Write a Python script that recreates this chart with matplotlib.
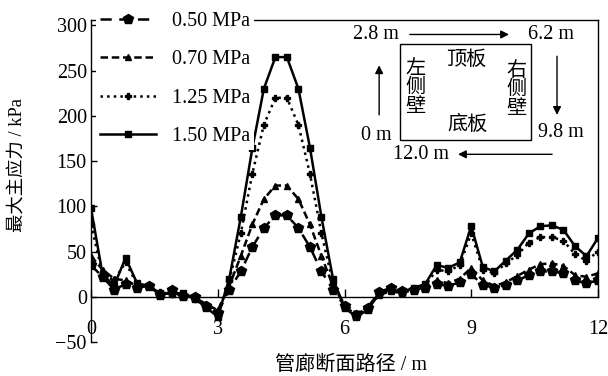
import matplotlib
matplotlib.use("Agg")
import matplotlib.pyplot as plt

plt.rcParams['font.family'] = ['Liberation Serif', 'Noto Sans CJK SC']
plt.rcParams['font.size'] = 14.5
plt.rcParams['axes.unicode_minus'] = True

# path position along the pipe-gallery section (m)
path_x = [0.0, 0.273, 0.545, 0.818, 1.091, 1.364, 1.636, 1.909, 2.182, 2.455,
          2.727, 3.0, 3.273, 3.545, 3.818, 4.091, 4.364, 4.636, 4.909, 5.182,
          5.455, 5.727, 6.0, 6.273, 6.545, 6.818, 7.091, 7.364, 7.636, 7.909,
          8.182, 8.455, 8.727, 9.0, 9.273, 9.545, 9.818, 10.091, 10.364, 10.636,
          10.909, 11.182, 11.455, 11.727, 12.0]

# max principal stress (kPa) for each load
s_050 = [35, 22, 8, 14, 10, 12, 2, 7, 1, 0,
         -10, -18, 8, 28, 55, 76, 90, 90, 76, 55,
         28, 8, -10, -20, -12, 5, 10, 6, 8, 10,
         14, 12, 16, 25, 13, 10, 13, 18, 24, 28,
         28, 26, 18, 15, 18]
s_070 = [45, 30, 20, 18, 12, 13, 3, 5, 3, -1,
         -8, -15, 12, 45, 80, 108, 123, 123, 108, 80,
         45, 12, -8, -18, -12, 2, 6, 4, 8, 10,
         18, 15, 20, 32, 18, 12, 16, 23, 30, 36,
         37, 34, 24, 22, 26]
s_125 = [80, 25, 18, 38, 14, 12, 5, 3, 2, -2,
         -10, -18, 18, 70, 136, 190, 220, 220, 190, 136,
         70, 15, -10, -20, -14, 3, 8, 5, 9, 12,
         30, 28, 35, 70, 30, 26, 37, 46, 60, 66,
         66, 62, 47, 40, 50]
s_150 = [98, 25, 12, 43, 15, 12, 4, 3, 4, -2,
         -12, -22, 20, 88, 164, 230, 265, 265, 230, 165,
         88, 20, -12, -22, -15, 4, 8, 5, 10, 14,
         35, 32, 38, 78, 33, 28, 40, 52, 70, 78,
         79, 74, 56, 45, 65]

labels = ['0.50 MPa', '0.70 MPa', '1.25 MPa', '1.50 MPa']

fig = plt.figure(figsize=(6.08, 3.76), dpi=100)
ax = fig.add_axes([91 / 608, 1 - 342 / 376, 507 / 608, 322 / 376])

ax.plot(path_x, s_050, color='k', lw=1.8, dashes=(4.5, 3), marker='p', ms=7, label=labels[0])
ax.plot(path_x, s_070, color='k', lw=1.8, dashes=(3, 1.5), marker='^', ms=5, label=labels[1])
ax.plot(path_x, s_125, color='k', lw=1.8, ls=':', marker='P', ms=5, label=labels[2])
ax.plot(path_x, s_150, color='k', lw=1.8, ls='-', marker='s', ms=4.5, label=labels[3])

ax.set_xlim(0, 12)
ax.set_ylim(-50, 306)
ax.set_xticks([0, 3, 6, 9, 12])
ax.set_yticks(range(-50, 301, 50))

ax.spines['bottom'].set_position(('data', 0))
ax.spines['right'].set_bounds(0, 306)
for sp in ax.spines.values():
    sp.set_linewidth(1.0)
ax.tick_params(axis='x', direction='in', length=6, pad=17, width=1.0)
ax.tick_params(axis='y', direction='in', length=4, pad=3, width=1.0)

leg = ax.legend(loc='upper left', bbox_to_anchor=(96 / 608, 1 - 8 / 376),
                bbox_transform=fig.transFigure, frameon=True, fancybox=False,
                handlelength=2.8, handletextpad=0.75, labelspacing=0.95,
                borderpad=0.2, borderaxespad=0)
leg.get_frame().set_edgecolor('none')
leg.get_frame().set_facecolor('white')
leg.get_frame().set_alpha(1)

# inset: section path diagram
ax.add_patch(plt.Rectangle((7.31, 173), 3.1, 106, fill=False, lw=1.0, color='k'))
arr = dict(arrowstyle='-|>', color='k', lw=1.0, mutation_scale=12)
ax.annotate('', xy=(9.96, 290), xytext=(7.48, 290), arrowprops=arr)
ax.annotate('', xy=(11.03, 198), xytext=(11.03, 269), arrowprops=arr)
ax.annotate('', xy=(8.62, 157.5), xytext=(10.98, 157.5), arrowprops=arr)
ax.annotate('', xy=(6.82, 259), xytext=(6.82, 198), arrowprops=arr)
ax.text(6.75, 290, '2.8 m', ha='center', va='center')
ax.text(10.89, 290, '6.2 m', ha='center', va='center')
ax.text(11.12, 182, '9.8 m', ha='center', va='center')
ax.text(7.82, 157.5, '12.0 m', ha='center', va='center')
ax.text(6.75, 178, '0 m', ha='center', va='center')
ax.text(8.88, 261, '顶板', ha='center', va='center')
ax.text(8.92, 189.5, '底板', ha='center', va='center')
ax.text(7.67, 230, '左\n侧\n壁', ha='center', va='center', linespacing=1.0)
ax.text(10.08, 228, '右\n侧\n壁', ha='center', va='center', linespacing=1.0)

fig.text(18 / 608, 1 - 165 / 376, '最大主应力 / kPa', rotation=90, ha='center', va='center',
         fontsize=13.2)
fig.text(351 / 608, 1 - 365 / 376, '管廊断面路径 / m', ha='center', va='center')

fig.savefig('out.png', dpi=100)
